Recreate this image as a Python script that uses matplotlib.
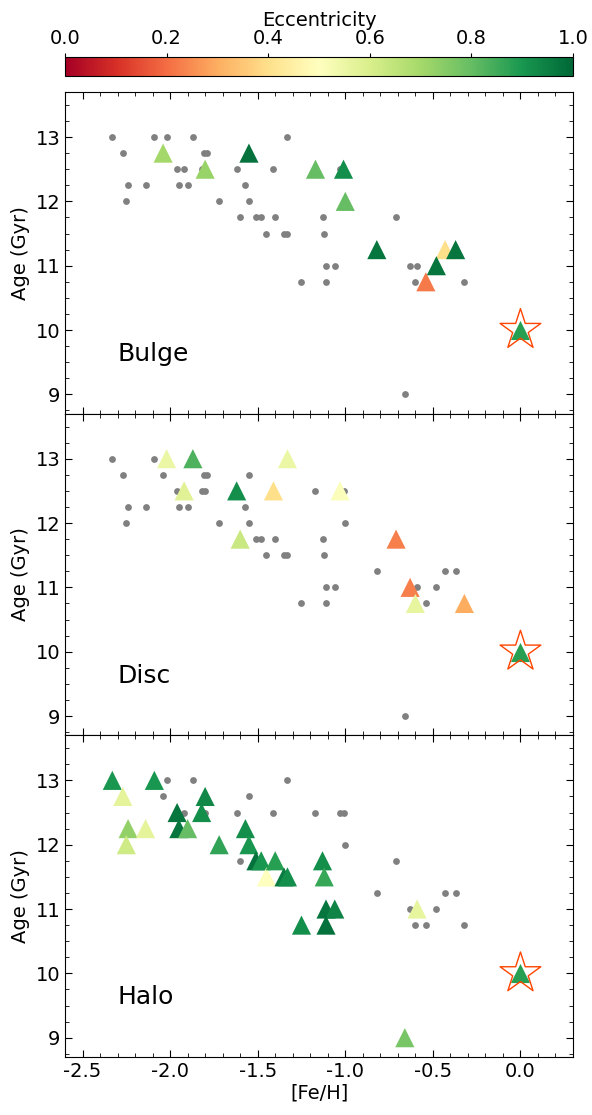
import numpy as np
import matplotlib
matplotlib.use("Agg")
import matplotlib.pyplot as plt
from matplotlib.ticker import MultipleLocator

plt.rcParams["axes.unicode_minus"] = False

# --- data -----------------------------------------------------------------
panel_names = ["Bulge", "Disc", "Halo"]

# grey background clusters (per panel)
bulge_dot_feh = [-2.33, -2.27, -2.24, -2.25, -2.14, -2.09, -2.02, -1.87, -1.805, -1.79,
                 -1.96, -1.92, -1.82, -1.95, -1.90, -1.72, -1.62, -1.57, -1.55, -1.60,
                 -1.51, -1.48, -1.40, -1.45, -1.35, -1.33, -1.41, -1.33, -1.25, -1.13,
                 -1.12, -1.11, -1.06, -1.11, -1.03, -0.71, -0.63, -0.59, -0.60, -0.32, -0.66]
bulge_dot_age = [13, 12.75, 12.25, 12, 12.25, 13, 13, 13, 12.75, 12.75,
                 12.5, 12.5, 12.5, 12.25, 12.25, 12, 12.5, 12.25, 12, 11.75,
                 11.75, 11.75, 11.75, 11.5, 11.5, 11.5, 12.5, 13, 10.75, 11.75,
                 11.5, 11, 11, 10.75, 12.5, 11.75, 11, 11, 10.75, 10.75, 9]

disc_dot_feh = [-2.33, -2.27, -2.24, -2.25, -2.14, -2.09, -2.04, -1.96, -1.95, -1.90,
                -1.805, -1.79, -1.82, -1.80, -1.72, -1.55, -1.57, -1.55, -1.51, -1.48,
                -1.40, -1.45, -1.35, -1.33, -1.25, -1.17, -1.13, -1.12, -1.11, -1.06,
                -1.11, -1.01, -1.00, -0.82, -0.59, -0.48, -0.43, -0.37, -0.54, -0.66]
disc_dot_age = [13, 12.75, 12.25, 12, 12.25, 13, 12.75, 12.5, 12.25, 12.25,
                12.75, 12.75, 12.5, 12.5, 12, 12.75, 12.25, 12, 11.75, 11.75,
                11.75, 11.5, 11.5, 11.5, 10.75, 12.5, 11.75, 11.5, 11, 11,
                10.75, 12.5, 12, 11.25, 11, 11, 11.25, 11.25, 10.75, 9]

halo_dot_feh = [-2.02, -1.87, -2.04, -1.92, -1.80, -1.62, -1.55, -1.41, -1.33, -1.60,
                -1.17, -1.03, -1.01, -1.00, -0.71, -0.82, -0.63, -0.48, -0.43, -0.37,
                -0.60, -0.54, -0.32]
halo_dot_age = [13, 13, 12.75, 12.5, 12.5, 12.5, 12.75, 12.5, 13, 11.75,
                12.5, 12.5, 12.5, 12, 11.75, 11.25, 11, 11, 11.25, 11.25,
                10.75, 10.75, 10.75]

# clusters assigned to each component, coloured by eccentricity
bulge_feh = [-2.04, -1.80, -1.55, -1.17, -1.01, -1.00, -0.82, -0.43, -0.37, -0.48, -0.54]
bulge_age = [12.75, 12.5, 12.75, 12.5, 12.5, 12.0, 11.25, 11.25, 11.25, 11.0, 10.75]
bulge_ecc = [0.70, 0.72, 0.98, 0.80, 0.92, 0.80, 0.97, 0.40, 0.97, 0.97, 0.22]

disc_feh = [-2.02, -1.87, -1.92, -1.62, -1.60, -1.41, -1.33, -1.03, -0.71, -0.63, -0.60, -0.32]
disc_age = [13.0, 13.0, 12.5, 12.5, 11.75, 12.5, 13.0, 12.5, 11.75, 11.0, 10.75, 10.75]
disc_ecc = [0.55, 0.83, 0.58, 0.92, 0.63, 0.40, 0.55, 0.51, 0.23, 0.23, 0.56, 0.30]

halo_feh = [-2.33, -2.27, -2.24, -2.25, -2.14, -2.09, -1.96, -1.95, -1.90, -1.82,
            -1.80, -1.72, -1.57, -1.55, -1.51, -1.48, -1.45, -1.40, -1.35, -1.33,
            -1.25, -1.13, -1.12, -1.11, -1.06, -1.11, -0.59, -0.66]
halo_age = [13.0, 12.75, 12.25, 12.0, 12.25, 13.0, 12.5, 12.25, 12.25, 12.5,
            12.75, 12.0, 12.25, 12.0, 11.75, 11.75, 11.5, 11.75, 11.5, 11.5,
            10.75, 11.75, 11.5, 11.0, 11.0, 10.75, 11.0, 9.0]
halo_ecc = [0.90, 0.57, 0.73, 0.62, 0.57, 0.90, 0.97, 0.97, 0.80, 0.92,
            0.93, 0.87, 0.92, 0.90, 0.98, 0.90, 0.50, 0.88, 0.96, 0.92,
            0.92, 0.92, 0.86, 0.97, 0.94, 0.98, 0.56, 0.77]

# reference object (star marker)
ref_feh = 0.0
ref_age = 10.0
ref_ecc = 0.88

dots = [(bulge_dot_feh, bulge_dot_age), (disc_dot_feh, disc_dot_age), (halo_dot_feh, halo_dot_age)]
tris = [(bulge_feh, bulge_age, bulge_ecc), (disc_feh, disc_age, disc_ecc), (halo_feh, halo_age, halo_ecc)]

# --- figure ---------------------------------------------------------------
W, H = 592, 1115
fig = plt.figure(figsize=(W / 100, H / 100), dpi=100)

left, right = 65 / W, 573 / W
top_px, bot_px = 92, 1057
ph = (bot_px - top_px) / 3

cmap = plt.get_cmap("RdYlGn")
axes = []
sc = None
for i, name in enumerate(panel_names):
    y0 = 1 - (top_px + (i + 1) * ph) / H
    ax = fig.add_axes([left, y0, right - left, ph / H])
    axes.append(ax)

    dx, dy = dots[i]
    ax.scatter(dx, dy, s=24, color="grey", zorder=1, linewidths=0)

    tx, ty, tc = tris[i]
    sc = ax.scatter(tx, ty, c=tc, cmap=cmap, vmin=0, vmax=1, marker="^",
                    s=190, linewidths=0, zorder=2)
    ax.scatter([ref_feh], [ref_age], c=[ref_ecc], cmap=cmap, vmin=0, vmax=1,
               marker="^", s=190, linewidths=0, zorder=3)
    ax.scatter([ref_feh], [ref_age], marker="*", s=950, facecolors="none",
               edgecolors="orangered", linewidths=1.0, zorder=4)

    ax.text(0.104, 0.185, name, transform=ax.transAxes, fontsize=18,
            ha="left", va="center")

    ax.set_xlim(-2.6, 0.3)
    ax.set_ylim(8.7, 13.7)
    ax.set_yticks([9, 10, 11, 12, 13])
    ax.xaxis.set_major_locator(MultipleLocator(0.5))
    ax.xaxis.set_minor_locator(MultipleLocator(0.1))
    ax.yaxis.set_minor_locator(MultipleLocator(0.25))
    ax.tick_params(which="both", direction="in", top=True, right=True, labelsize=14)
    ax.tick_params(which="major", length=5)
    ax.tick_params(which="minor", length=3)
    ax.set_ylabel("Age (Gyr)", fontsize=14)
    if i < 2:
        ax.tick_params(labelbottom=False)
    else:
        ax.set_xlabel("[Fe/H]", fontsize=14, labelpad=2)

# colourbar on top
cax = fig.add_axes([left, 1 - 76 / H, right - left, 19 / H])
cb = fig.colorbar(sc, cax=cax, orientation="horizontal")
cb.set_ticks([0.0, 0.2, 0.4, 0.6, 0.8, 1.0])
cax.xaxis.set_ticks_position("top")
cax.xaxis.set_label_position("top")
cax.tick_params(labelsize=14, length=3)
cb.set_label("Eccentricity", fontsize=14, labelpad=2)

fig.savefig("out.png", dpi=100)
